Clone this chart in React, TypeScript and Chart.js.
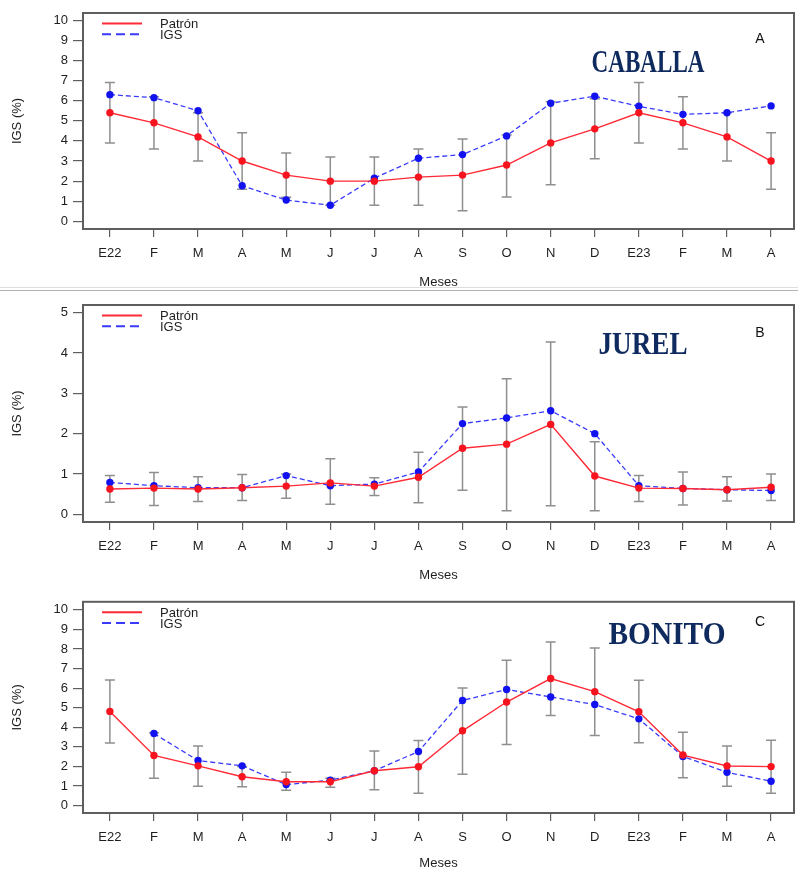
import React, { useEffect, useRef } from "react";
import { Chart, registerables } from "chart.js";

Chart.register(...registerables);

// ---------- data ----------
const months = ["E22", "F", "M", "A", "M", "J", "J", "A", "S", "O", "N", "D", "E23", "F", "M", "A"];
const legendLabels = ["Patrón", "IGS"];

const yTicks10 = [0, 1, 2, 3, 4, 5, 6, 7, 8, 9, 10];
const yTicks5 = [0, 1, 2, 3, 4, 5];

// A - CABALLA
const cabPatron = [5.4, 4.9, 4.2, 3.0, 2.3, 2.0, 2.0, 2.2, 2.3, 2.8, 3.9, 4.6, 5.4, 4.9, 4.2, 3.0];
const cabIgs = [6.3, 6.15, 5.5, 1.77, 1.06, 0.8, 2.15, 3.14, 3.32, 4.25, 5.87, 6.22, 5.72, 5.32, 5.4, 5.74];
const cabLow = [3.9, 3.6, 3.0, 1.6, 1.2, 0.8, 0.8, 0.8, 0.53, 1.21, 1.82, 3.11, 3.9, 3.6, 3.0, 1.6];
const cabHigh = [6.9, 6.2, 5.4, 4.4, 3.4, 3.2, 3.2, 3.6, 4.1, 4.3, 5.95, 6.1, 6.9, 6.2, 5.4, 4.4];

// B - JUREL
const jurPatron = [0.63, 0.65, 0.63, 0.66, 0.7, 0.78, 0.7, 0.92, 1.64, 1.74, 2.23, 0.95, 0.65, 0.64, 0.61, 0.67];
const jurIgs = [0.79, 0.71, 0.66, 0.66, 0.96, 0.71, 0.75, 1.05, 2.25, 2.39, 2.57, 2.0, 0.71, 0.64, 0.61, 0.59];
const jurLow = [0.3, 0.22, 0.32, 0.34, 0.4, 0.25, 0.47, 0.29, 0.6, 0.09, 0.21, 0.09, 0.32, 0.23, 0.33, 0.34];
const jurHigh = [0.96, 1.04, 0.93, 0.99, 1.0, 1.38, 0.91, 1.54, 2.66, 3.36, 4.27, 1.8, 0.96, 1.05, 0.93, 1.0];

// C - BONITO
const bonPatron = [4.81, 2.56, 2.03, 1.47, 1.22, 1.22, 1.78, 1.98, 3.82, 5.29, 6.49, 5.82, 4.79, 2.58, 2.02, 1.99];
const bonIgs = [null, 3.68, 2.3, 2.03, 1.07, 1.3, 1.78, 2.76, 5.37, 5.93, 5.55, 5.16, 4.43, 2.51, 1.7, 1.24];
const bonLow = [3.19, 1.4, 0.99, 0.96, 0.78, 0.94, 0.81, 0.63, 1.6, 3.12, 4.6, 3.58, 3.21, 1.42, 0.99, 0.63];
const bonHigh = [6.41, 3.72, 3.04, 2.0, 1.7, 1.4, 2.79, 3.32, 6.01, 7.42, 8.35, 8.05, 6.4, 3.75, 3.04, 3.34];

// ---------- styles ----------
const SANS = "'Liberation Sans', Arial, Helvetica, sans-serif";
const SERIF = "'Liberation Serif', 'Times New Roman', serif";
const RED = "#ff2a36";
const RED_PT = "#f8141f";
const BLUE = "#3a3aff";
const BLUE_PT = "#1212f0";
const AXIS = "#5e5e5e";
const TEXT = "#1e1e1e";

type PanelCfg = {
  top: number;
  height: number;
  padTop: number;
  xAxisH: number;
  mesesPad: number;
  yMin: number;
  yMax: number;
  yTicks: number[];
  patron: (number | null)[];
  igs: (number | null)[];
  low: number[];
  high: number[];
  title: string;
  titleX: number;
  titleY: number;
  titleW: number;
  letter: string;
  letterX: number;
  letterY: number;
};

const panels: PanelCfg[] = [
  {
    top: 0, height: 290, padTop: 13, xAxisH: 61, mesesPad: 0,
    yMin: -0.38, yMax: 10.36, yTicks: yTicks10,
    patron: cabPatron, igs: cabIgs, low: cabLow, high: cabHigh,
    title: "CABALLA", titleX: 648, titleY: 64, titleW: 113,
    letter: "A", letterX: 760, letterY: 39,
  },
  {
    top: 291, height: 298, padTop: 14, xAxisH: 67, mesesPad: 6,
    yMin: -0.19, yMax: 5.19, yTicks: yTicks5,
    patron: jurPatron, igs: jurIgs, low: jurLow, high: jurHigh,
    title: "JUREL", titleX: 643, titleY: 55, titleW: 89,
    letter: "B", letterX: 760, letterY: 42,
  },
  {
    top: 589, height: 282, padTop: 6, xAxisH: 58, mesesPad: 0,
    yMin: -0.38, yMax: 10.41, yTicks: yTicks10,
    patron: bonPatron, igs: bonIgs, low: bonLow, high: bonHigh,
    title: "BONITO", titleX: 667, titleY: 47, titleW: 117,
    letter: "C", letterX: 760, letterY: 33,
  },
];

function makeDecor(cfg: PanelCfg) {
  return {
    id: "panelDecor",
    beforeDatasetsDraw(chart: any) {
      const { ctx } = chart;
      const xs = chart.scales.x;
      const ys = chart.scales.y;
      ctx.save();
      ctx.strokeStyle = "#8f8f8f";
      ctx.lineWidth = 1.5;
      cfg.low.forEach((lo, i) => {
        const hi = cfg.high[i];
        const x = xs.getPixelForValue(i);
        const y1 = ys.getPixelForValue(lo);
        const y2 = ys.getPixelForValue(hi);
        ctx.beginPath();
        ctx.moveTo(x, y1);
        ctx.lineTo(x, y2);
        ctx.moveTo(x - 5, y1);
        ctx.lineTo(x + 5, y1);
        ctx.moveTo(x - 5, y2);
        ctx.lineTo(x + 5, y2);
        ctx.stroke();
      });
      ctx.restore();
    },
    afterDraw(chart: any) {
      const { ctx, chartArea: a } = chart;
      ctx.save();
      // frame
      ctx.strokeStyle = AXIS;
      ctx.lineWidth = 2;
      ctx.strokeRect(a.left, a.top, a.right - a.left, a.bottom - a.top);
      // legend
      chart.data.datasets.forEach((ds: any, k: number) => {
        const y = a.top + 10.5 + k * 10.8;
        ctx.strokeStyle = ds.borderColor;
        ctx.lineWidth = 2;
        ctx.setLineDash(ds.borderDash ? [9, 5] : []);
        ctx.beginPath();
        ctx.moveTo(a.left + 19, y);
        ctx.lineTo(a.left + 59, y);
        ctx.stroke();
        ctx.setLineDash([]);
        ctx.fillStyle = TEXT;
        ctx.font = `13px ${SANS}`;
        ctx.textAlign = "left";
        ctx.textBaseline = "middle";
        ctx.fillText(ds.label, a.left + 77, y + 1);
      });
      // species title
      ctx.fillStyle = "#0f2a5e";
      ctx.font = `bold 31px ${SERIF}`;
      ctx.textAlign = "center";
      ctx.textBaseline = "middle";
      ctx.fillText(cfg.title, cfg.titleX, cfg.titleY, cfg.titleW);
      // panel letter
      ctx.fillStyle = "#111";
      ctx.font = `14px ${SANS}`;
      ctx.fillText(cfg.letter, cfg.letterX, cfg.letterY);
      ctx.restore();
    },
  };
}

function Panel({ cfg }: { cfg: PanelCfg }) {
  const ref = useRef<HTMLCanvasElement | null>(null);
  useEffect(() => {
    if (!ref.current) return;
    const chart = new Chart(ref.current, {
      type: "line",
      data: {
        datasets: [
          {
            label: legendLabels[0],
            data: cfg.patron.map((v, i) => ({ x: i, y: v })) as any,
            borderColor: RED,
            backgroundColor: RED_PT,
            pointBackgroundColor: RED_PT,
            pointBorderWidth: 0,
            pointRadius: 3.7,
            borderWidth: 1.4,
            tension: 0,
          },
          {
            label: legendLabels[1],
            data: cfg.igs.map((v, i) => ({ x: i, y: v })) as any,
            borderColor: BLUE,
            backgroundColor: BLUE_PT,
            pointBackgroundColor: BLUE_PT,
            pointBorderWidth: 0,
            pointRadius: 3.7,
            borderWidth: 1.3,
            borderDash: [5, 3],
            tension: 0,
            spanGaps: false,
          },
        ],
      },
      options: {
        animation: false,
        responsive: false,
        maintainAspectRatio: false,
        layout: { padding: { top: cfg.padTop, right: 1, left: 0, bottom: 0 } },
        plugins: { legend: { display: false }, tooltip: { enabled: false } },
        scales: {
          x: {
            type: "linear",
            min: -0.61,
            max: 15.52,
            afterBuildTicks: (s: any) => {
              s.ticks = months.map((_, i) => ({ value: i }));
            },
            afterFit: (s: any) => {
              s.height = cfg.xAxisH;
            },
            ticks: {
              autoSkip: false,
              maxRotation: 0,
              padding: 9,
              color: TEXT,
              font: { size: 13, family: SANS },
              callback: (v: any) => months[Number(v)],
            },
            grid: { drawOnChartArea: false, drawTicks: true, tickLength: 8, color: AXIS, lineWidth: 1.2 },
            border: { display: false },
            title: {
              display: true,
              text: "Meses",
              color: TEXT,
              font: { size: 13, family: SANS },
              padding: { top: 0, bottom: cfg.mesesPad },
            },
          },
          y: {
            type: "linear",
            min: cfg.yMin,
            max: cfg.yMax,
            afterBuildTicks: (s: any) => {
              s.ticks = cfg.yTicks.map((v) => ({ value: v }));
            },
            afterFit: (s: any) => {
              s.width = 83;
            },
            ticks: { padding: 5, color: TEXT, font: { size: 13, family: SANS } },
            grid: { drawOnChartArea: false, drawTicks: true, tickLength: 10, color: AXIS, lineWidth: 1.2 },
            border: { display: false },
            title: {
              display: true,
              text: "IGS (%)",
              color: TEXT,
              font: { size: 13, family: SANS },
              padding: { top: 10, bottom: 0 },
            },
          },
        },
      } as any,
      plugins: [makeDecor(cfg) as any],
    });
    return () => chart.destroy();
  }, [cfg]);
  return (
    <canvas
      ref={ref}
      width={798}
      height={cfg.height}
      style={{ position: "absolute", left: 0, top: cfg.top, width: 798, height: cfg.height }}
    />
  );
}

export default function App() {
  return (
    <div style={{ position: "absolute", left: 0, top: 0, width: 798, height: 871, background: "#fff", overflow: "hidden" }}>
      <div style={{ position: "absolute", left: 0, top: 287, width: 798, height: 1, background: "#dedede" }} />
      <div style={{ position: "absolute", left: 0, top: 290, width: 798, height: 1, background: "#b2b2b2" }} />
      {panels.map((p, i) => (
        <Panel key={i} cfg={p} />
      ))}
    </div>
  );
}
